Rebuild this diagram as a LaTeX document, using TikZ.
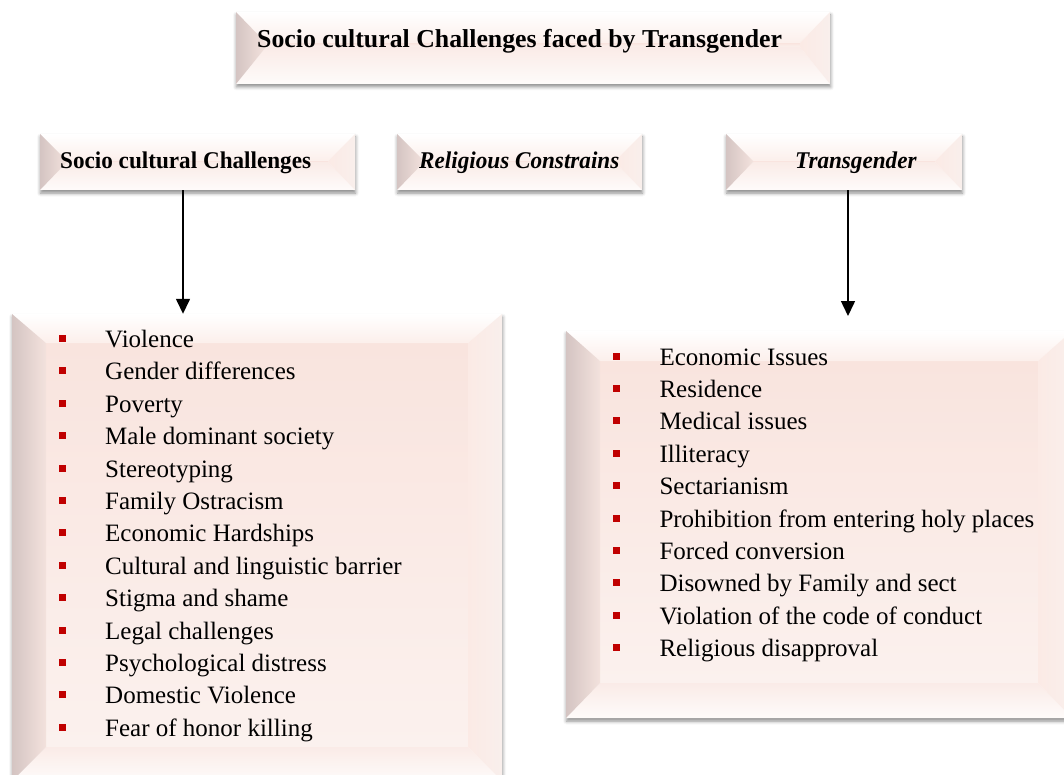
\documentclass[tikz,border=0pt]{standalone}
\usepackage{fontspec}
\setmainfont{Liberation Serif}
\newfontfamily\headfont{Liberation Serif}[FakeStretch=0.965]
\usetikzlibrary{arrows.meta,calc,shadows.blur}

\definecolor{bulletred}{RGB}{192,0,0}
\definecolor{facetop}{RGB}{249,228,222}
\definecolor{facebot}{RGB}{251,241,238}
\definecolor{toplo}{RGB}{252,239,235}
\definecolor{bothi}{RGB}{250,235,231}
\definecolor{botlo}{RGB}{254,251,250}
\definecolor{leftout}{RGB}{212,196,194}
\definecolor{leftin}{RGB}{243,226,221}
\definecolor{rightin}{RGB}{251,234,229}
\definecolor{rightout}{RGB}{249,239,236}

% square red bullet, centred 9pt above the baseline
\newcommand\sqbul{\textcolor{bulletred}{\raisebox{5.5pt}{\rule{7pt}{7pt}}}}

\tikzset{
  bvt/.store in=\bvt, bvs/.store in=\bvs, bvb/.store in=\bvb,
  bvt=30, bvs=30, bvb=30,
  % raised panel with bevelled edges and a soft drop shadow
  bevelbox/.style={
    rectangle, inner sep=0pt, fill=white, draw=none,
    blur shadow={shadow xshift=0.5pt, shadow yshift=-3pt,
                 shadow blur radius=3.5pt, shadow opacity=45},
    path picture={
      \coordinate (pA) at (path picture bounding box.north west);
      \coordinate (pB) at (path picture bounding box.north east);
      \coordinate (pC) at (path picture bounding box.south east);
      \coordinate (pD) at (path picture bounding box.south west);
      \coordinate (qa) at ($(pA)+(\bvs pt,-\bvt pt)$);
      \coordinate (qb) at ($(pB)+(-\bvs pt,-\bvt pt)$);
      \coordinate (qc) at ($(pC)+(-\bvs pt,\bvb pt)$);
      \coordinate (qd) at ($(pD)+(\bvs pt,\bvb pt)$);
      \shade[top color=facetop, bottom color=facebot] (qa) rectangle (qc);
      \shade[top color=white, bottom color=toplo] (pA) -- (pB) -- (qb) -- (qa) -- cycle;
      \shade[top color=bothi, bottom color=botlo] (pD) -- (pC) -- (qc) -- (qd) -- cycle;
      \shade[left color=leftout, right color=leftin] (pA) -- (qa) -- (qd) -- (pD) -- cycle;
      \shade[left color=rightin, right color=rightout] (pB) -- (qb) -- (qc) -- (pC) -- cycle;
    }
  },
  headtext/.style={inner sep=0pt, font=\headfont\fontsize{24pt}{28pt}\selectfont\bfseries},
  titletext/.style={inner sep=0pt, font=\fontsize{25.8pt}{30pt}\selectfont\bfseries},
  listtext/.style={inner sep=0pt, font=\fontsize{25pt}{32.4pt}\selectfont},
  arr/.style={line width=1.5pt, -{Triangle[width=14pt,length=15pt]}},
}

\begin{document}
\begin{tikzpicture}[x=1pt, y=-1pt]
  \useasboundingbox (0,0) rectangle (1064,775);

  % panels
  \node[bevelbox, bvt=31, bvs=30, bvb=37, minimum width=594pt, minimum height=72pt] (title) at (533,48) {};
  \node[bevelbox, bvt=27, bvs=27, bvb=28, minimum width=315pt, minimum height=56pt] (sc) at (197.5,162) {};
  \node[bevelbox, bvt=27, bvs=27, bvb=28, minimum width=245pt, minimum height=56pt] (rc) at (519.5,162) {};
  \node[bevelbox, bvt=27, bvs=27, bvb=28, minimum width=236pt, minimum height=56pt] (tg) at (844,162) {};
  \node[bevelbox, bvt=29, bvs=34, bvb=34, minimum width=490pt, minimum height=467pt] (lb) at (257,547.5) {};
  \node[bevelbox, bvt=30, bvs=34, bvb=35, minimum width=506pt, minimum height=387pt] (rb) at (819,524.5) {};

  % headings
  \node[titletext, anchor=base west] (titlet) at (257,48) {Socio cultural Challenges faced by Transgender};
  \node[headtext, anchor=base west] (sct) at (60,169) {Socio cultural Challenges};
  \node[headtext, anchor=base west] (rct) at (419,169) {\itshape Religious Constrains};
  \node[headtext, anchor=base west] (tgt) at (795,169) {\itshape Transgender};

  % connectors
  \coordinate (lefttip) at (183,314);
  \coordinate (righttip) at (848,316);
  \draw[arr] (sc.south -| lefttip) -- (lefttip |- lb.north);
  \draw[arr] (tg.south -| righttip) -- (righttip);

  % bullet lists
  \node[listtext, anchor=base west] (leftlist) at (58.5,347.5) {%
    \begin{tabular}[t]{@{}p{46.5pt}@{}l@{}}
      \sqbul & Violence\\
      \sqbul & Gender differences\\
      \sqbul & Poverty\\
      \sqbul & Male dominant society\\
      \sqbul & Stereotyping\\
      \sqbul & Family Ostracism\\
      \sqbul & Economic Hardships\\
      \sqbul & Cultural and linguistic barrier\\
      \sqbul & Stigma and shame\\
      \sqbul & Legal challenges\\
      \sqbul & Psychological distress\\
      \sqbul & Domestic Violence\\
      \sqbul & Fear of honor killing
    \end{tabular}};
  \node[listtext, anchor=base west] (rightlist) at (612.7,365) {%
    \begin{tabular}[t]{@{}p{46.6pt}@{}l@{}}
      \sqbul & Economic Issues\\
      \sqbul & Residence\\
      \sqbul & Medical issues\\
      \sqbul & Illiteracy\\
      \sqbul & Sectarianism\\
      \sqbul & Prohibition from entering holy places\\
      \sqbul & Forced conversion\\
      \sqbul & Disowned by Family and sect\\
      \sqbul & Violation of the code of conduct\\
      \sqbul & Religious disapproval
    \end{tabular}};
\end{tikzpicture}
\end{document}
